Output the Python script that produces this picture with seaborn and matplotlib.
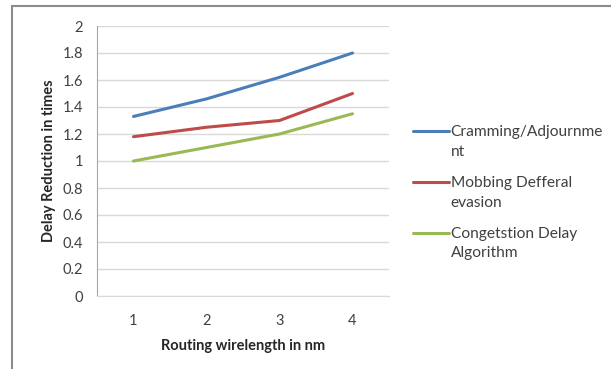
import matplotlib
matplotlib.use("Agg")
import matplotlib.pyplot as plt
import seaborn as sns
import pandas as pd
import numpy as np
from matplotlib.patches import Rectangle
from matplotlib.legend_handler import HandlerLine2D

# values
wirelength = [1, 2, 3, 4]
cramming = [1.33, 1.46, 1.62, 1.80]
mobbing = [1.18, 1.25, 1.30, 1.50]
congestion = [1.00, 1.10, 1.20, 1.35]
series_names = ["Cramming/Adjournme\nnt", "Mobbing Defferal\nevasion", "Congetstion Delay\nAlgorithm"]
colors = ["#4A7EBB", "#BE4B48", "#98B954"]
y_ticks = [0, 0.2, 0.4, 0.6, 0.8, 1, 1.2, 1.4, 1.6, 1.8, 2]

df = pd.DataFrame({
    "x": wirelength * 3,
    "y": cramming + mobbing + congestion,
    "series": [series_names[0]] * 4 + [series_names[1]] * 4 + [series_names[2]] * 4,
})


class FirstLineHandler(HandlerLine2D):
    # put the legend line level with the first line of a wrapped label
    def create_artists(self, legend, orig_handle, xdescent, ydescent, width, height, fontsize, trans):
        artists = super().create_artists(legend, orig_handle, xdescent, ydescent,
                                         width, height, fontsize, trans)
        for a in artists:
            a.set_ydata(np.asarray(a.get_ydata()) + fontsize * 0.7)
        return artists


sns.set_style("white")
plt.rcParams["font.family"] = ["Lato", "DejaVu Sans"]

fig = plt.figure(figsize=(6.11, 3.69), dpi=100)
ax = fig.add_axes([97 / 611, 1 - 296 / 369, 292 / 611, 270 / 369])

sns.lineplot(data=df, x="x", y="y", hue="series", palette=colors, linewidth=2.2, ax=ax)

ax.set_xlim(0.5, 4.5)
ax.set_ylim(0, 2)
ax.set_xticks(wirelength)
ax.set_xticklabels([str(v) for v in wirelength])
ax.set_yticks(y_ticks)
ax.set_yticklabels([f"{v:g}" for v in y_ticks])
ax.grid(axis="y", color="#D9D9D9", linewidth=1)
ax.set_axisbelow(True)
for side in ["top", "right"]:
    ax.spines[side].set_visible(False)
ax.spines["left"].set_color("#A6A6A6")
ax.spines["bottom"].set_color("#D9D9D9")
ax.tick_params(axis="y", length=4, color="#A6A6A6", labelsize=10.5, labelcolor="#404040", pad=6)
ax.tick_params(axis="x", length=0, labelsize=10.5, labelcolor="#404040", pad=13)
ax.set_xlabel("Routing wirelength in nm", fontsize=10.5, fontweight="bold", labelpad=8)
ax.set_ylabel("Delay Reduction in times", fontsize=10.5, fontweight="bold", labelpad=5)

handles, labels = ax.get_legend_handles_labels()
leg = ax.legend(handles, labels, title=None, frameon=False, loc="upper left",
                bbox_to_anchor=(1.035, 0.685), fontsize=11.2, handlelength=2.3,
                handletextpad=0.1, labelspacing=1.1, labelcolor="#404040",
                handler_map={h: FirstLineHandler() for h in handles})
for t in leg.get_texts():
    t.set_linespacing(1.52)

# outer chart border
fig.patches.append(Rectangle((12 / 611, -0.05), 1.0, 1 - 6 / 369 + 0.05,
                             transform=fig.transFigure, fill=False,
                             edgecolor="#8C8C8C", linewidth=1.5))

fig.savefig("out.png", dpi=100)
